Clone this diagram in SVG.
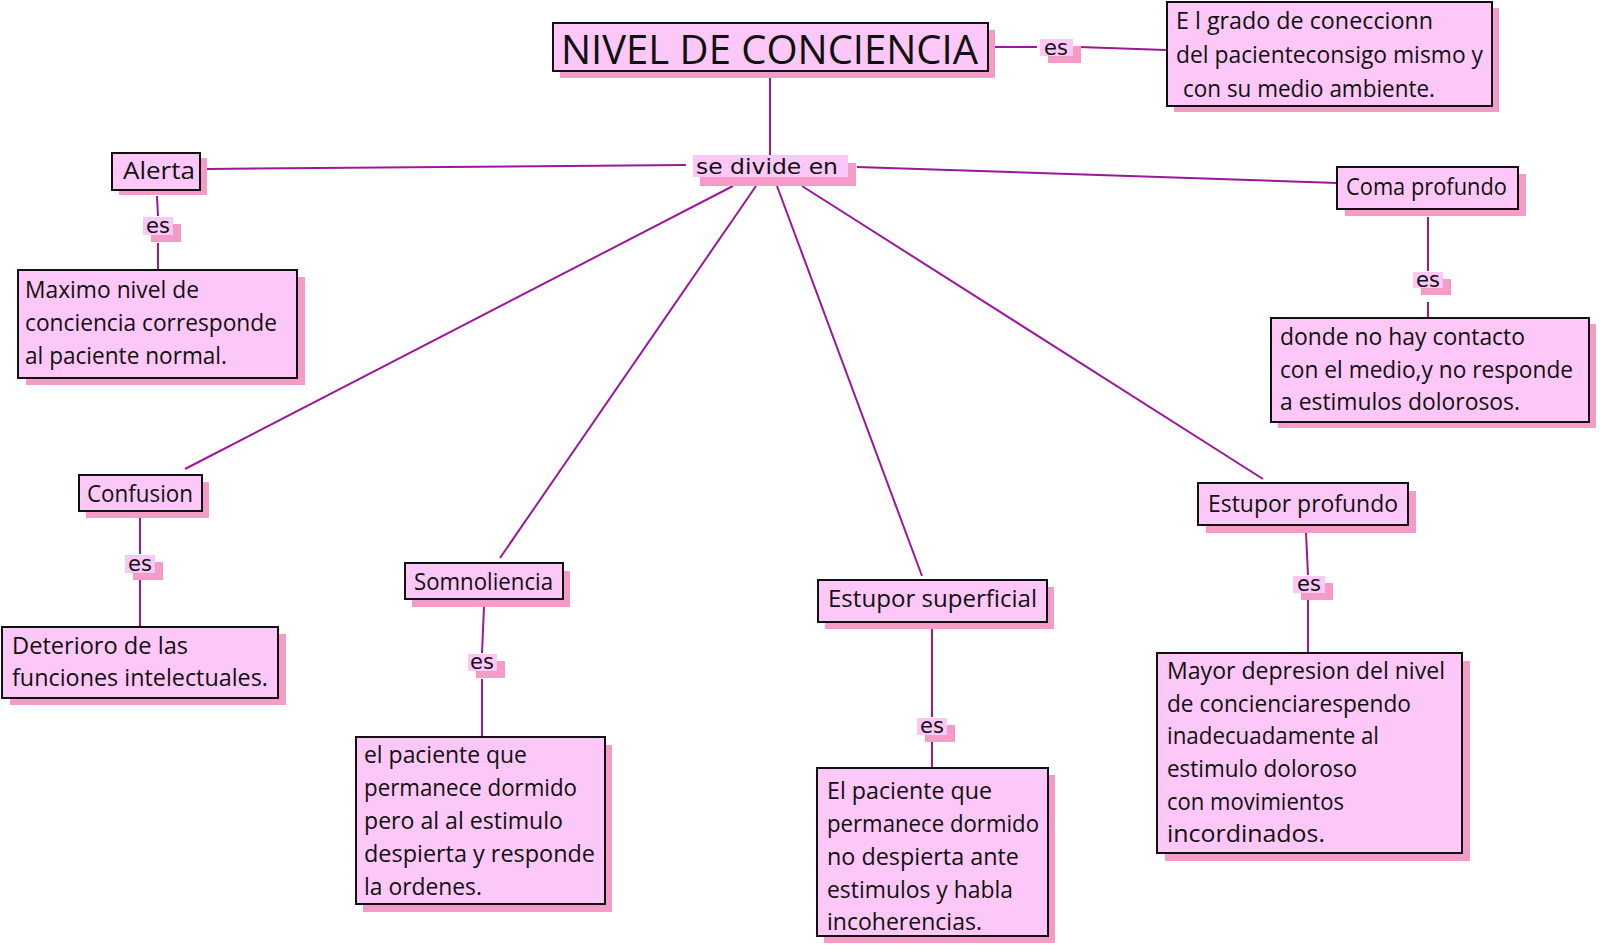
<svg xmlns="http://www.w3.org/2000/svg" width="1600" height="947" viewBox="0 0 1600 947">
<style>
.bg{fill:#ffffff}
.box{fill:#fdc8f8;stroke:#111;stroke-width:2}
.sh{fill:#f49bc8}
.lb{fill:#fdc8f8}
.t{font-family:"Open Sans","Liberation Sans",sans-serif;font-size:23px;fill:#111}
.ti{font-family:"Open Sans","Liberation Sans",sans-serif;font-size:40px;fill:#111}
.l{font-family:"DejaVu Sans","Liberation Sans",sans-serif;font-size:21px;fill:#111}
.c{stroke:#9b179b;stroke-width:2;fill:none}
</style>
<rect class="bg" x="0" y="0" width="1600" height="947"/>

<g id="connectors">
<line class="c" x1="995" y1="47" x2="1037" y2="47"/>
<line class="c" x1="1079" y1="47" x2="1166" y2="50"/>
<line class="c" x1="770" y1="78" x2="770" y2="155"/>
<line class="c" x1="686" y1="165" x2="207" y2="169"/>
<line class="c" x1="857" y1="167" x2="1337" y2="183"/>
<line class="c" x1="733" y1="186" x2="185" y2="469"/>
<line class="c" x1="756" y1="186" x2="500" y2="558"/>
<line class="c" x1="777" y1="186" x2="922" y2="576"/>
<line class="c" x1="802" y1="186" x2="1263" y2="479"/>
<line class="c" x1="157" y1="196" x2="158" y2="216"/>
<line class="c" x1="158" y1="243" x2="158" y2="269"/>
<line class="c" x1="1428" y1="217" x2="1428" y2="271"/>
<line class="c" x1="1428" y1="302" x2="1428" y2="317"/>
<line class="c" x1="140" y1="518" x2="140" y2="554"/>
<line class="c" x1="140" y1="580" x2="140" y2="626"/>
<line class="c" x1="484" y1="607" x2="482" y2="653"/>
<line class="c" x1="482" y1="679" x2="482" y2="736"/>
<line class="c" x1="932" y1="629" x2="932" y2="717"/>
<line class="c" x1="932" y1="742" x2="932" y2="767"/>
<line class="c" x1="1306" y1="533" x2="1308" y2="575"/>
<line class="c" x1="1308" y1="600" x2="1308" y2="652"/>
</g>

<g id="n-title">
<rect class="sh" x="560" y="30" width="435" height="48"/>
<rect class="box" x="553" y="23" width="435" height="48"/>
<text class="ti" x="561" y="64" textLength="417" lengthAdjust="spacingAndGlyphs">NIVEL DE CONCIENCIA</text>
</g>

<g id="l-es-top">
<rect class="sh" x="1048" y="46" width="33" height="17"/>
<rect class="lb" x="1040" y="39" width="33" height="17"/>
<text class="l" x="1056" y="55" text-anchor="middle">es</text>
</g>

<g id="n-def">
<rect class="sh" x="1174" y="8" width="325" height="104"/>
<rect class="box" x="1167" y="2" width="325" height="104"/>
<text class="t" x="1176" y="29" textLength="257" lengthAdjust="spacingAndGlyphs">E l grado de coneccionn</text>
<text class="t" x="1176" y="63" textLength="307" lengthAdjust="spacingAndGlyphs">del pacienteconsigo mismo y</text>
<text class="t" x="1183" y="97" textLength="252" lengthAdjust="spacingAndGlyphs">con su medio ambiente.</text>
</g>

<g id="l-divide">
<rect class="sh" x="700" y="163" width="156" height="23"/>
<rect class="lb" x="693" y="155" width="155" height="22"/>
<text class="l" x="696" y="174" textLength="142" lengthAdjust="spacingAndGlyphs">se divide en</text>
</g>

<g id="n-alerta">
<rect class="sh" x="119" y="158" width="88" height="37"/>
<rect class="box" x="112" y="153" width="88" height="37"/>
<text class="t" x="123" y="179" textLength="72" lengthAdjust="spacingAndGlyphs">Alerta</text>
</g>
<g id="l-es-alerta">
<rect class="sh" x="151" y="224" width="30" height="18"/>
<rect class="lb" x="143" y="217" width="30" height="18"/>
<text class="l" x="158" y="233" text-anchor="middle">es</text>
</g>
<g id="n-maximo">
<rect class="sh" x="26" y="277" width="279" height="108"/>
<rect class="box" x="18" y="270" width="279" height="108"/>
<text class="t" x="25" y="298" textLength="174" lengthAdjust="spacingAndGlyphs">Maximo nivel de</text>
<text class="t" x="25" y="331" textLength="252" lengthAdjust="spacingAndGlyphs">conciencia corresponde</text>
<text class="t" x="25" y="364" textLength="202" lengthAdjust="spacingAndGlyphs">al paciente normal.</text>
</g>

<g id="n-coma">
<rect class="sh" x="1345" y="174" width="181" height="42"/>
<rect class="box" x="1337" y="167" width="181" height="42"/>
<text class="t" x="1346" y="195" textLength="161" lengthAdjust="spacingAndGlyphs">Coma profundo</text>
</g>
<g id="l-es-coma">
<rect class="sh" x="1421" y="279" width="30" height="16"/>
<rect class="lb" x="1413" y="272" width="30" height="16"/>
<text class="l" x="1428" y="287" text-anchor="middle">es</text>
</g>
<g id="n-donde">
<rect class="sh" x="1278" y="324" width="318" height="104"/>
<rect class="box" x="1271" y="318" width="318" height="104"/>
<text class="t" x="1280" y="345" textLength="245" lengthAdjust="spacingAndGlyphs">donde no hay contacto</text>
<text class="t" x="1280" y="378" textLength="293" lengthAdjust="spacingAndGlyphs">con el medio,y no responde</text>
<text class="t" x="1280" y="410" textLength="240" lengthAdjust="spacingAndGlyphs">a estimulos dolorosos.</text>
</g>

<g id="n-confusion">
<rect class="sh" x="86" y="482" width="123" height="36"/>
<rect class="box" x="79" y="475" width="123" height="36"/>
<text class="t" x="87" y="502" textLength="106" lengthAdjust="spacingAndGlyphs">Confusion</text>
</g>
<g id="l-es-conf">
<rect class="sh" x="133" y="562" width="30" height="18"/>
<rect class="lb" x="125" y="555" width="30" height="18"/>
<text class="l" x="140" y="571" text-anchor="middle">es</text>
</g>
<g id="n-deterioro">
<rect class="sh" x="10" y="634" width="276" height="71"/>
<rect class="box" x="2" y="627" width="276" height="71"/>
<text class="t" x="12" y="654" textLength="176" lengthAdjust="spacingAndGlyphs">Deterioro de las</text>
<text class="t" x="12" y="686" textLength="256" lengthAdjust="spacingAndGlyphs">funciones intelectuales.</text>
</g>

<g id="n-somnoliencia">
<rect class="sh" x="412" y="571" width="158" height="36"/>
<rect class="box" x="405" y="563" width="158" height="36"/>
<text class="t" x="414" y="590" textLength="139" lengthAdjust="spacingAndGlyphs">Somnoliencia</text>
</g>
<g id="l-es-somn">
<rect class="sh" x="476" y="661" width="29" height="17"/>
<rect class="lb" x="468" y="654" width="29" height="17"/>
<text class="l" x="482" y="669" text-anchor="middle">es</text>
</g>
<g id="n-somn-def">
<rect class="sh" x="363" y="745" width="249" height="167"/>
<rect class="box" x="356" y="737" width="249" height="167"/>
<text class="t" x="364" y="763" textLength="163" lengthAdjust="spacingAndGlyphs">el paciente que</text>
<text class="t" x="364" y="796" textLength="213" lengthAdjust="spacingAndGlyphs">permanece dormido</text>
<text class="t" x="364" y="829" textLength="199" lengthAdjust="spacingAndGlyphs">pero al al estimulo</text>
<text class="t" x="364" y="862" textLength="231" lengthAdjust="spacingAndGlyphs">despierta y responde</text>
<text class="t" x="364" y="895" textLength="118" lengthAdjust="spacingAndGlyphs">la ordenes.</text>
</g>

<g id="n-superficial">
<rect class="sh" x="825" y="587" width="229" height="42"/>
<rect class="box" x="818" y="580" width="229" height="42"/>
<text class="t" x="828" y="607" textLength="209" lengthAdjust="spacingAndGlyphs">Estupor superficial</text>
</g>
<g id="l-es-sup">
<rect class="sh" x="925" y="725" width="30" height="17"/>
<rect class="lb" x="917" y="718" width="30" height="17"/>
<text class="l" x="932" y="733" text-anchor="middle">es</text>
</g>
<g id="n-sup-def">
<rect class="sh" x="824" y="775" width="231" height="168"/>
<rect class="box" x="817" y="768" width="231" height="168"/>
<text class="t" x="827" y="799" textLength="165" lengthAdjust="spacingAndGlyphs">El paciente que</text>
<text class="t" x="827" y="832" textLength="212" lengthAdjust="spacingAndGlyphs">permanece dormido</text>
<text class="t" x="827" y="865" textLength="192" lengthAdjust="spacingAndGlyphs">no despierta ante</text>
<text class="t" x="827" y="898" textLength="186" lengthAdjust="spacingAndGlyphs">estimulos y habla</text>
<text class="t" x="827" y="930" textLength="155" lengthAdjust="spacingAndGlyphs">incoherencias.</text>
</g>

<g id="n-profundo">
<rect class="sh" x="1206" y="491" width="210" height="42"/>
<rect class="box" x="1198" y="483" width="210" height="42"/>
<text class="t" x="1208" y="512" textLength="190" lengthAdjust="spacingAndGlyphs">Estupor profundo</text>
</g>
<g id="l-es-prof">
<rect class="sh" x="1301" y="583" width="32" height="17"/>
<rect class="lb" x="1293" y="576" width="32" height="17"/>
<text class="l" x="1309" y="591" text-anchor="middle">es</text>
</g>
<g id="n-prof-def">
<rect class="sh" x="1165" y="661" width="305" height="200"/>
<rect class="box" x="1157" y="653" width="305" height="200"/>
<text class="t" x="1167" y="679" textLength="278" lengthAdjust="spacingAndGlyphs">Mayor depresion del nivel</text>
<text class="t" x="1167" y="712" textLength="244" lengthAdjust="spacingAndGlyphs">de concienciarespendo</text>
<text class="t" x="1167" y="744" textLength="212" lengthAdjust="spacingAndGlyphs">inadecuadamente al</text>
<text class="t" x="1167" y="777" textLength="190" lengthAdjust="spacingAndGlyphs">estimulo doloroso</text>
<text class="t" x="1167" y="810" textLength="177" lengthAdjust="spacingAndGlyphs">con movimientos</text>
<text class="t" x="1167" y="842" textLength="158" lengthAdjust="spacingAndGlyphs">incordinados.</text>
</g>
</svg>
